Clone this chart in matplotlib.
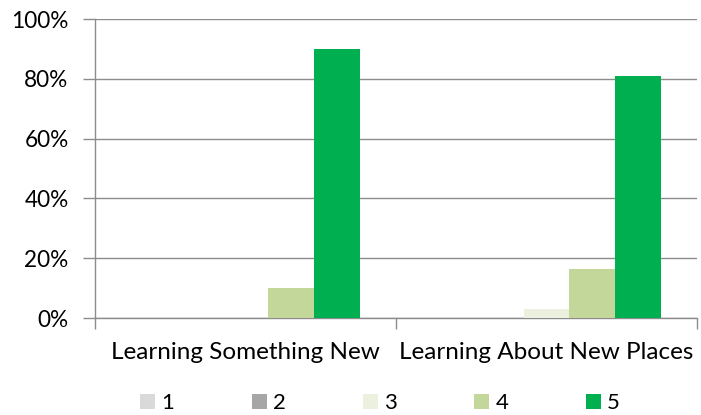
import matplotlib
matplotlib.use("Agg")
import matplotlib.pyplot as plt
import numpy as np
from matplotlib.patches import Patch

categories = ["Learning Something New", "Learning About New Places"]
series_names = ["1", "2", "3", "4", "5"]
s1 = [0, 0]
s2 = [0, 0]
s3 = [0, 3]
s4 = [10, 16.5]
s5 = [90, 81]
series_values = [s1, s2, s3, s4, s5]
colors = ["#D9D9D9", "#A6A6A6", "#EBF1DE", "#C4D79B", "#00B050"]
yticks = [0, 20, 40, 60, 80, 100]
ytick_labels = ["0%", "20%", "40%", "60%", "80%", "100%"]

plt.rcParams['font.family'] = ['Lato', 'DejaVu Sans']

fig = plt.figure(figsize=(7.01, 4.15), dpi=100)
ax = fig.add_axes([95/701, 1-318/415, (697-95)/701, (318-19)/415])

x = np.arange(len(categories))
bw = 0.764 / 5
for i, (vals, c) in enumerate(zip(series_values, colors)):
    ax.bar(x + (i - 2) * bw, vals, width=bw, color=c, zorder=3)

ax.set_xlim(-0.5, 1.5)
ax.set_ylim(0, 100)
ax.set_yticks(yticks)
ax.set_yticklabels(ytick_labels, fontsize=16.3)
ax.yaxis.grid(True, color="#8C8C8C", linewidth=1.0, zorder=0)
ax.set_xticks(x)
ax.set_xticklabels(categories, fontsize=17.5)
ax.tick_params(axis='x', length=0, pad=17)
ax.set_xticks([-0.5, 0.5, 1.5], minor=True)
ax.tick_params(axis='x', which='minor', length=8, color="#8C8C8C", width=1.0)
ax.tick_params(axis='y', length=9, color="#8C8C8C", width=1.0, pad=10)
for s in ["top", "right"]:
    ax.spines[s].set_visible(False)
for s in ["left", "bottom"]:
    ax.spines[s].set_color("#8C8C8C")
    ax.spines[s].set_linewidth(1.0)

handles = [Patch(facecolor=c, edgecolor='none') for c in colors]
fs_leg = 16
em = fs_leg * 100 / 72
fig.legend(handles, series_names, loc='center', bbox_to_anchor=(380/701, 1 - 403/415),
           ncol=5, frameon=False, fontsize=fs_leg, handlelength=15/em, handleheight=15/em,
           columnspacing=(111.5 - 15 - 6 - 13)/em, handletextpad=6/em, borderpad=0)

fig.savefig("out.png", dpi=100)
